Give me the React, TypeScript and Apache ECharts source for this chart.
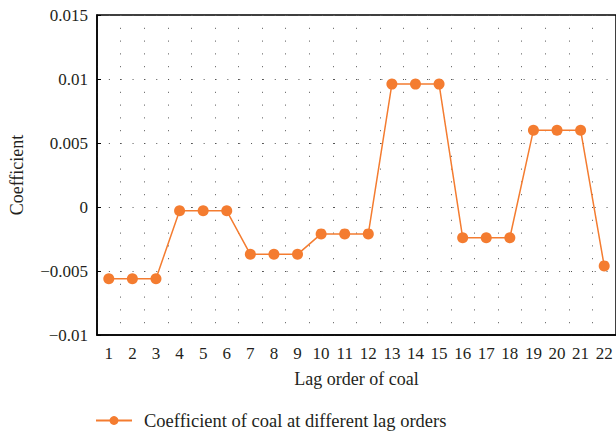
import React, { useEffect, useRef } from "react";
import * as echarts from "echarts";

const categories = ["1","2","3","4","5","6","7","8","9","10","11","12","13","14","15","16","17","18","19","20","21","22"];
const coefficients = [
  -0.0056, -0.0056, -0.0056,
  -0.0003, -0.0003, -0.0003,
  -0.0037, -0.0037, -0.0037,
  -0.0021, -0.0021, -0.0021,
  0.0096, 0.0096, 0.0096,
  -0.0024, -0.0024, -0.0024,
  0.0060, 0.0060, 0.0060,
  -0.0046,
];
const seriesName = "Coefficient of coal at different lag orders";
const xName = "Lag order of coal";
const yName = "Coefficient";

const FONT = "Liberation Serif";
const TEXT = "#231f20";
const ORANGE = "#f47c30";

export default function App() {
  const ref = useRef<HTMLDivElement>(null);
  useEffect(() => {
    const chart = echarts.init(ref.current!, null, { renderer: "svg" });
    chart.setOption({
      animation: false,
      textStyle: { fontFamily: FONT, color: TEXT },
      grid: {
        left: 97, top: 15, right: -2, bottom: 97,
        show: true, borderColor: "#000", borderWidth: 1.5,
      },
      legend: {
        top: 406, left: 90,
        itemWidth: 36, itemHeight: 11,
        textStyle: { fontFamily: FONT, fontSize: 18.5, color: TEXT, padding: [0, 0, 0, 7] },
        data: [seriesName],
      },
      xAxis: {
        type: "category",
        data: categories,
        boundaryGap: true,
        name: xName,
        nameLocation: "middle",
        nameGap: 35,
        nameTextStyle: { fontFamily: FONT, fontSize: 18, color: TEXT },
        axisLine: { onZero: false, lineStyle: { color: "#000", width: 1.5 } },
        axisTick: { inside: true, alignWithLabel: true, length: 4, lineStyle: { color: "#000" } },
        axisLabel: { fontFamily: FONT, fontSize: 17, color: TEXT, margin: 10, interval: 0 },
        splitLine: {
          show: true, interval: 0,
          lineStyle: { color: "#555", width: 1, type: [1, 11.8] },
        },
      },
      yAxis: {
        type: "value",
        min: -0.01, max: 0.015, interval: 0.005,
        name: yName,
        nameLocation: "middle",
        nameGap: 71,
        nameTextStyle: { fontFamily: FONT, fontSize: 18, color: TEXT },
        axisLine: { show: true, lineStyle: { color: "#000", width: 1.5 } },
        axisTick: { show: true, inside: true, length: 4, lineStyle: { color: "#000" } },
        axisLabel: {
          fontFamily: FONT, fontSize: 17, color: TEXT, margin: 9,
          formatter: (v: number) => String(Number(v.toFixed(4))).replace("-", "\u2212"),
        },
        splitLine: { show: true, lineStyle: { color: "#555", width: 1, type: [1, 10.85] } },
      },
      series: [
        {
          name: seriesName,
          type: "line",
          data: coefficients,
          symbol: "circle",
          symbolSize: 11,
          itemStyle: { color: ORANGE },
          lineStyle: { color: ORANGE, width: 1.5 },
        },
      ],
    });
    return () => chart.dispose();
  }, []);
  return <div ref={ref} style={{ position: "absolute", left: 0, top: 0, width: 616, height: 432 }} />;
}
